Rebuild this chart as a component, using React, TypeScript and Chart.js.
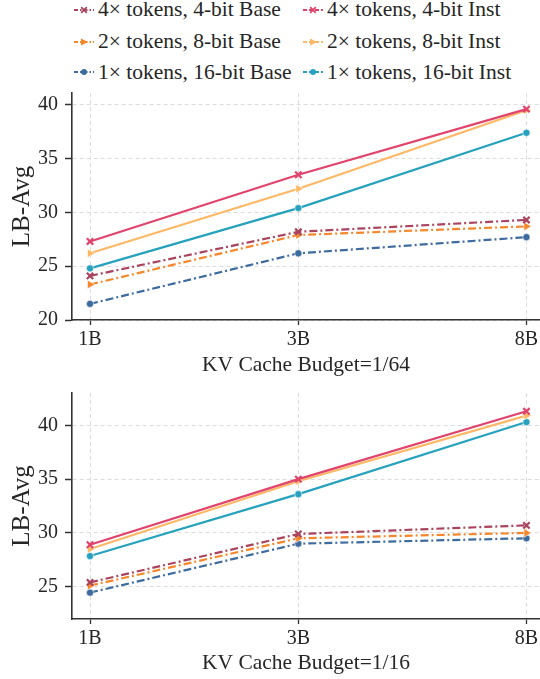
import React, { useEffect, useRef } from 'react';
import { Chart, registerables } from 'chart.js';

Chart.register(...registerables);

const FONT = "'Liberation Serif', 'Times New Roman', serif";

// x categories (model sizes) and their positions on the x axis
const modelLabels = ['1B', '3B', '8B'];
const modelPositions = [0, 1, 2.095];

const seriesNames = [
  '4× tokens, 4-bit Base',
  '4× tokens, 4-bit Inst',
  '2× tokens, 8-bit Base',
  '2× tokens, 8-bit Inst',
  '1× tokens, 16-bit Base',
  '1× tokens, 16-bit Inst',
];

// KV Cache Budget = 1/64
const b64_4x_base = [24.1, 28.2, 29.3];
const b64_4x_inst = [27.3, 33.5, 39.6];
const b64_2x_base = [23.3, 27.9, 28.7];
const b64_2x_inst = [26.2, 32.2, 39.5];
const b64_1x_base = [21.5, 26.2, 27.7];
const b64_1x_inst = [24.8, 30.4, 37.4];

// KV Cache Budget = 1/16
const b16_4x_base = [25.4, 29.9, 30.7];
const b16_4x_inst = [28.9, 35.0, 41.3];
const b16_2x_base = [25.1, 29.5, 30.0];
const b16_2x_inst = [28.5, 34.8, 40.9];
const b16_1x_base = [24.45, 29.0, 29.5];
const b16_1x_inst = [27.85, 33.6, 40.3];

const seriesColors = ['#a9435e', '#e0446c', '#f5862a', '#fdb866', '#3d6b9e', '#26a1be'];
const seriesMarkers = ['crossRot', 'crossRot', 'triangle', 'triangle', 'circle', 'circle'];
const seriesDashed = [true, false, true, false, true, false];

const BASE_DASH = [8, 3, 2, 3];

function makeDatasets(values: number[][]) {
  return values.map((vals, i) => {
    const marker = seriesMarkers[i];
    return {
      label: seriesNames[i],
      data: vals.map((v, j) => ({ x: modelPositions[j], y: v })),
      borderColor: seriesColors[i],
      backgroundColor: seriesColors[i],
      borderWidth: 2.2,
      borderDash: seriesDashed[i] ? BASE_DASH : [],
      tension: 0,
      pointStyle: marker,
      pointRadius: marker === 'crossRot' ? 4.5 : marker === 'triangle' ? 5 : 3.6,
      pointRotation: marker === 'triangle' ? 90 : 0,
      pointBorderWidth: marker === 'crossRot' ? 2.2 : 0.6,
      pointBorderColor: marker === 'crossRot' ? seriesColors[i] : '#ffffff',
      pointBackgroundColor: seriesColors[i],
      order: i,
    };
  });
}

type PanelProps = {
  top: number;
  height: number;
  values: number[][];
  yMin: number;
  yMax: number;
  title: string;
  padTop: number;
  xAxisHeight: number;
  titlePadBottom: number;
};

function Panel(p: PanelProps) {
  const ref = useRef<HTMLCanvasElement | null>(null);
  useEffect(() => {
    if (!ref.current) return;
    const gridCommon = {
      color: '#dcdcdc',
      lineWidth: 1,
      tickColor: '#333333',
      tickWidth: 1.3,
      tickBorderDash: [1, 0],
    };
    const borderCommon = { color: '#333333', width: 1.6, dash: [4, 3] };
    const chart = new Chart(ref.current, {
      type: 'line',
      data: { datasets: makeDatasets(p.values) as any },
      options: {
        animation: false,
        responsive: false,
        maintainAspectRatio: false,
        layout: { autoPadding: false, padding: { top: p.padTop, left: 0, right: 0, bottom: 0 } },
        plugins: { legend: { display: false }, tooltip: { enabled: false } },
        scales: {
          x: {
            type: 'linear',
            min: -0.0864,
            max: 2.16,
            afterBuildTicks: (s: any) => {
              s.ticks = modelPositions.map((v) => ({ value: v }));
            },
            afterFit: (s: any) => {
              s.height = p.xAxisHeight;
              s.paddingLeft = 0;
              s.paddingRight = 0;
              s.paddingTop = 0;
              s.paddingBottom = 0;
            },
            ticks: {
              autoSkip: false,
              maxRotation: 0,
              padding: 3,
              color: '#262626',
              font: { family: FONT, size: 20 },
              callback: (v: any) => {
                const i = modelPositions.indexOf(Number(v));
                return i >= 0 ? modelLabels[i] : '';
              },
            },
            grid: { ...gridCommon, tickLength: 5 },
            border: borderCommon,
            title: {
              display: true,
              text: p.title,
              color: '#262626',
              font: { family: FONT, size: 21.5 },
              padding: { top: 0, bottom: p.titlePadBottom },
            },
          },
          y: {
            type: 'linear',
            min: p.yMin,
            max: p.yMax,
            afterFit: (s: any) => {
              s.width = 72;
              s.paddingLeft = 0;
              s.paddingRight = 0;
              s.paddingTop = 0;
              s.paddingBottom = 0;
            },
            ticks: {
              stepSize: 5,
              includeBounds: false,
              padding: 7,
              color: '#262626',
              font: { family: FONT, size: 20 },
            },
            grid: { ...gridCommon, tickLength: 7 },
            border: borderCommon,
            title: {
              display: true,
              text: 'LB-Avg',
              color: '#262626',
              font: { family: FONT, size: 25 },
              padding: { top: 7, bottom: 0 },
            },
          },
        },
      } as any,
    });
    return () => chart.destroy();
  }, []);
  return (
    <canvas
      ref={ref}
      width={540}
      height={p.height}
      style={{ position: 'absolute', left: 0, top: p.top, width: 540, height: p.height }}
    />
  );
}

function LegendMarker({ i }: { i: number }) {
  const c = seriesColors[i];
  const m = seriesMarkers[i];
  return (
    <svg width={20} height={12} style={{ display: 'block' }}>
      <line
        x1={0}
        y1={6}
        x2={20}
        y2={6}
        stroke={c}
        strokeWidth={2}
        strokeDasharray={seriesDashed[i] ? '4 2 1.5 2' : '4 2'}
      />
      {m === 'crossRot' && (
        <g stroke={c} strokeWidth={1.8}>
          <line x1={7.2} y1={3.2} x2={12.8} y2={8.8} />
          <line x1={12.8} y1={3.2} x2={7.2} y2={8.8} />
        </g>
      )}
      {m === 'triangle' && <polygon points="7,2.5 14,6 7,9.5" fill={c} />}
      {m === 'circle' && <circle cx={10} cy={6} r={3} fill={c} />}
    </svg>
  );
}

const legendRowsY = [9.5, 41.5, 72];
const legendColsX = [74, 303];

function Legend() {
  return (
    <>
      {seriesNames.map((name, i) => {
        const row = Math.floor(i / 2);
        const col = i % 2;
        return (
          <div
            key={name}
            style={{
              position: 'absolute',
              left: legendColsX[col],
              top: legendRowsY[row] - 15,
              height: 30,
              display: 'flex',
              alignItems: 'center',
              whiteSpace: 'nowrap',
              fontFamily: FONT,
              fontSize: 21.5,
              color: '#262626',
            }}
          >
            <LegendMarker i={i} />
            <span style={{ marginLeft: 4 }}>{name}</span>
          </div>
        );
      })}
    </>
  );
}

export default function App() {
  return (
    <div
      style={{
        position: 'absolute',
        left: 0,
        top: 0,
        width: 540,
        height: 679,
        overflow: 'hidden',
        background: '#ffffff',
      }}
    >
      <Legend />
      <Panel
        top={86}
        height={299}
        values={[b64_4x_base, b64_4x_inst, b64_2x_base, b64_2x_inst, b64_1x_base, b64_1x_inst]}
        yMin={20}
        yMax={41.1}
        title="KV Cache Budget=1/64"
        padTop={7}
        xAxisHeight={65}
        titlePadBottom={7}
      />
      <Panel
        top={385}
        height={294}
        values={[b16_4x_base, b16_4x_inst, b16_2x_base, b16_2x_inst, b16_1x_base, b16_1x_inst]}
        yMin={22}
        yMax={43}
        title="KV Cache Budget=1/16"
        padTop={8}
        xAxisHeight={60}
        titlePadBottom={3}
      />
    </div>
  );
}
